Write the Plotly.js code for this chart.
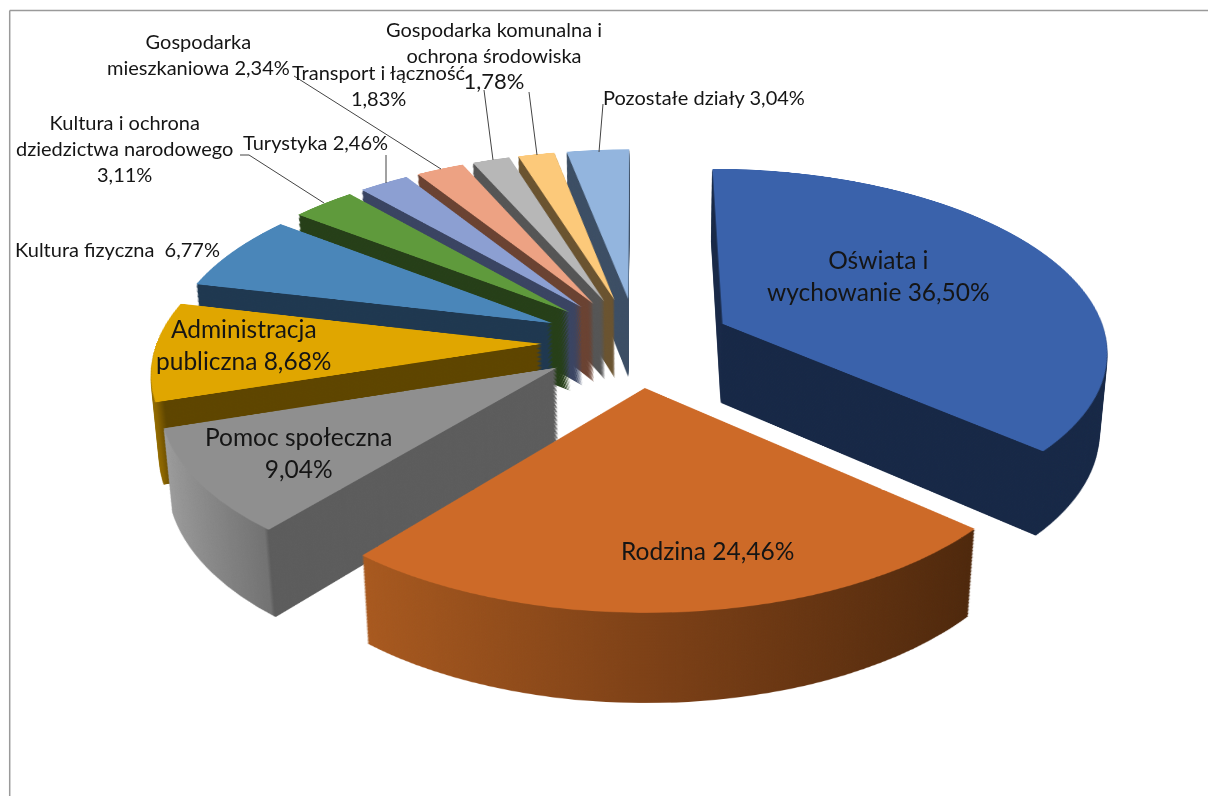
<!DOCTYPE html>
<html><head><meta charset="utf-8">
<script src="https://cdn.plot.ly/plotly-3.0.1.min.js"></script>
<style>
html,body{margin:0;padding:0;background:#fff;overflow:hidden;width:1208px;height:796px}
#stage{position:absolute;left:0;top:0;width:1208px;height:796px;overflow:hidden}
.disc{position:absolute;left:157px;top:-138px;width:960px;height:960px;transform-origin:50% 50%;pointer-events:none}
#labels{position:absolute;left:0;top:0;width:1208px;height:796px;pointer-events:none}
</style></head><body>
<div id="stage">
<div id="side" class="disc"></div>
<div id="face" class="disc"></div>
<div id="labels"></div>
</div>
<script>
const categories=["Oświata i wychowanie","Rodzina","Pomoc społeczna","Administracja publiczna","Kultura fizyczna","Kultura i ochrona dziedzictwa narodowego","Turystyka","Gospodarka mieszkaniowa","Transport i łączność","Gospodarka komunalna i ochrona środowiska","Pozostałe działy"];
const values=[36.50,24.46,9.04,8.68,6.77,3.11,2.46,2.34,1.83,1.78,3.04];
const faceColors=["#3a62ab","#cd6a28","#8f8f8f","#e0a600","#4a86b9","#5f9a3c","#8c9fd2","#eda283","#b7b7b7","#fcc97a","#93b5de"];
const sideColors=["#172846","#6b3a14","#5c5c5c","#5e4500","#1f3850","#263f18","#3a4462","#6a4232","#555555","#6a5330","#3c4e64"];
const sideGradients={
 1:[[0,"#a8591f"],[0.5,"#7a3f16"],[1,"#4e280c"]],
 2:[[0,"#9c9c9c"],[0.32,"#727272"],[0.33,"#5c5c5c"],[1,"#5c5c5c"]],
 3:[[0,"#a27900"],[0.05,"#8a6400"],[0.07,"#5e4500"],[1,"#5e4500"]]
};
const pullShare=0.247;
const tilt=62, persp=2515, depth=92, layers=62;

const pie=(colors)=>[{type:"pie",values:values,labels:categories,sort:false,direction:"clockwise",rotation:0,
  pull:values.map(()=>pullShare),textinfo:"none",hoverinfo:"skip",showlegend:false,
  marker:{colors:colors,line:{width:0}},domain:{x:[0,1],y:[0,1]}}];
const pieLayout={width:960,height:960,margin:{l:0,r:0,t:0,b:0},paper_bgcolor:"rgba(0,0,0,0)",showlegend:false};
const cfg={displayModeBar:false,staticPlot:true};

const small=20, large=24.5, ink="#151515";
const labelRows=[
 ["Oświata i<br>wychowanie 36,50%",878,275,large],
 ["Rodzina 24,46%",707,550,large],
 ["Pomoc społeczna<br>9,04%",298,452,large],
 ["Administracja<br>publiczna 8,68%",244,344,large],
 ["Kultura fizyczna  6,77%",117,249,small],
 ["Kultura i ochrona<br>dziedzictwa narodowego<br>3,11%",124,148,small],
 ["Turystyka 2,46%",315,142,small],
 ["Gospodarka<br>mieszkaniowa 2,34%",198,54,small],
 ["Transport i łączność<br>1,83%",379,85,small],
 ["Gospodarka komunalna i<br>ochrona środowiska<br><span style='font-size:22px'>1,78%</span>",494,56,small],
 ["Pozostałe działy 3,04%",704,97,small]
];
const leaders=[
 [240,155,249,155],[249,155,324,203],[386,155,386,183],[294,76,441,169],[484,90,493,160],[529,92,537,155],[603,104,599,152]
];
const W=1208,H=796;
const ann=labelRows.map(r=>({text:r[0],x:r[1]/W,y:1-r[2]/H,xref:"paper",yref:"paper",showarrow:false,xanchor:"center",yanchor:"middle",align:"center",font:{family:"Lato, Carlito, sans-serif",size:r[3],color:ink}}));
const lineShape=(a)=>({type:"line",xref:"paper",yref:"paper",x0:a[0]/W,y0:1-a[1]/H,x1:a[2]/W,y1:1-a[3]/H,line:{color:"#444",width:1}});
const shapes=leaders.map(lineShape).concat([[9.7,796,9.7,10.6],[9.7,10.6,1208,10.6]].map(a=>({...lineShape(a),line:{color:"#9a9a9a",width:1.5}})));

Promise.all([
 Plotly.newPlot("side",pie(sideColors),pieLayout,cfg),
 Plotly.newPlot("face",pie(faceColors),pieLayout,cfg),
 Plotly.newPlot("labels",[],{width:W,height:H,margin:{l:0,r:0,t:0,b:0},paper_bgcolor:"rgba(0,0,0,0)",plot_bgcolor:"rgba(0,0,0,0)",xaxis:{visible:false},yaxis:{visible:false},annotations:ann,shapes:shapes},cfg)
]).then(()=>{
 const place=(el,z)=>{el.style.transform=`perspective(${persp}px) rotateX(${tilt}deg) translateZ(${z}px)`;};
 const side=document.getElementById("side"), face=document.getElementById("face"), stage=document.getElementById("stage");
 const NS="http://www.w3.org/2000/svg";
 const svg=side.querySelector("svg.main-svg");
 const defs=document.createElementNS(NS,"defs");
 svg.insertBefore(defs,svg.firstChild);
 const surfaces=side.querySelectorAll(".slice path.surface");
 Object.keys(sideGradients).forEach(k=>{
  const g=document.createElementNS(NS,"linearGradient");
  g.setAttribute("id","wall"+k);
  g.setAttribute("x1","0");g.setAttribute("x2","1");g.setAttribute("y1","0");g.setAttribute("y2","0");
  sideGradients[k].forEach(s=>{
   const st=document.createElementNS(NS,"stop");
   st.setAttribute("offset",s[0]);st.setAttribute("stop-color",s[1]);
   g.appendChild(st);
  });
  defs.appendChild(g);
  if(surfaces[k]) surfaces[k].style.fill=`url(#wall${k})`;
 });
 place(face,0);
 place(side,-depth);
 for(let i=1;i<layers;i++){
  const c=side.cloneNode(true); c.removeAttribute("id");
  place(c,-depth+depth*i/layers);
  stage.insertBefore(c,face);
 }
});
</script>
</body></html>
